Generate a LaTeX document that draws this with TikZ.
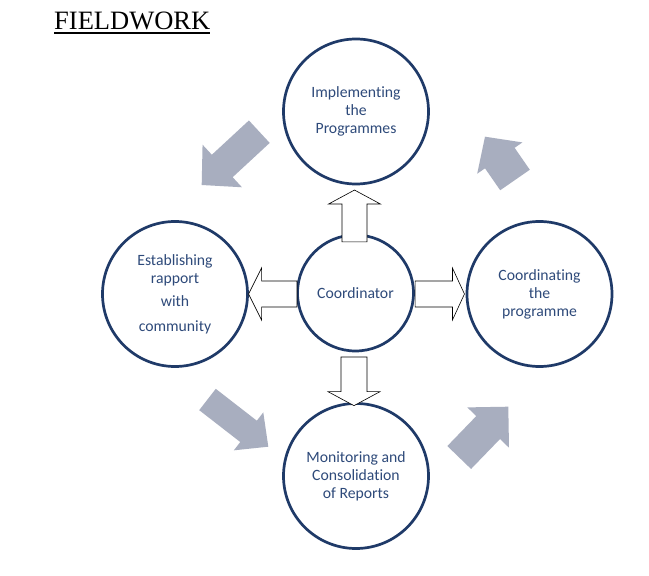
\documentclass[tikz,border=0pt]{standalone}
\usepackage{fontspec}
\setmainfont{Carlito}[Ligatures=NoCommon]
\newfontfamily\titlefont{Liberation Serif}
\usetikzlibrary{calc}

\definecolor{ringblue}{HTML}{1F3A68}
\definecolor{labelblue}{HTML}{2E4A7A}
\definecolor{greyarrow}{HTML}{A8AEBF}

\tikzset{
  ring/.style={circle,draw=ringblue,line width=2.7pt,fill=white,
    minimum size=145pt,inner sep=0pt,align=center,text=labelblue,
    font=\fontsize{15.7}{18}\selectfont},
  hub/.style={ring,minimum size=116pt},
  openarrow/.style={draw=black,fill=white,line width=0.6pt},
  greyblock/.style={fill=greyarrow}
}

% block arrow: style, tail, tip, half shaft, half head, head length
\newcommand\blockarr[6]{%
  \coordinate (hb) at ($(#3)!#6!(#2)$);
  \path[#1] ($(#2)!#4!90:(#3)$) -- ($(hb)!#4!-90:(#2)$)
    -- ($(hb)!#5!-90:(#2)$) -- (#3) -- ($(hb)!#5!90:(#2)$)
    -- ($(hb)!#4!90:(#2)$) -- ($(#2)!#4!-90:(#3)$) -- cycle;}

\begin{document}
\begin{tikzpicture}[x=1pt,y=1pt]
  \useasboundingbox[fill=white] (0,0) rectangle (649,576);

  % title
  \node[anchor=base west,inner sep=0pt,font=\titlefont\fontsize{26.5}{30}\selectfont]
    (title) at (54,546.5) {FIELDWORK};
  \draw[line width=1.3pt] ($(title.base west)+(0,-3.5)$) -- ($(title.base east)+(0,-3.5)$);

  % grey arrows round the ring
  \coordinate (tlTail) at (259.3,444.3); \coordinate (tlTip) at (201.7,391);
  \coordinate (trTail) at (515,396);     \coordinate (trTip) at (485,439.3);
  \coordinate (blTail) at (207.5,176.5); \coordinate (blTip) at (268.3,129.3);
  \coordinate (brTail) at (459.2,118.5); \coordinate (brTip) at (508.3,169.3);
  \blockarr{greyblock}{tlTail}{tlTip}{15.3pt}{29pt}{28pt}
  \blockarr{greyblock}{trTail}{trTip}{18pt}{27.5pt}{26pt}
  \blockarr{greyblock}{blTail}{blTip}{13.5pt}{24pt}{25pt}
  \blockarr{greyblock}{brTail}{brTip}{16.5pt}{29pt}{29pt}

  % circles
  \node[ring] (impl) at (356,464.5) {Implementing\\the\\Programmes};
  \node[ring] (estab) at (175,282) {Establishing\\rapport\\[5pt]with\\[7pt]community};
  \node[hub] (coord) at (355.5,283) {Coordinator};
  \node[ring] (coordprog) at (539.5,282) {Coordinating\\the\\programme};
  \node[ring] (monit) at (356,100) {Monitoring and\\Consolidation\\of Reports};

  % open arrows out of the coordinator
  \coordinate (upTail) at ($(coord.north)+(-1,-8.3)$);
  \coordinate (upTip) at ($(impl.south)+(-1.5,-4.7)$);
  \coordinate (dnTail) at ($(coord.south)+(-1.5,-4.7)$);
  \coordinate (dnTip) at ($(monit.north)+(-2,-3.5)$);
  \coordinate (lfTail) at ($(coord.west)+(0.8,-1)$);
  \coordinate (lfTip) at ($(estab.east)+(-0.3,0)$);
  \coordinate (rtTail) at ($(coord.east)+(0.2,-1)$);
  \coordinate (rtTip) at ($(coordprog.west)+(-1.2,0)$);
  \blockarr{openarrow}{upTail}{upTip}{12.5pt}{26pt}{14pt}
  \blockarr{openarrow}{dnTail}{dnTip}{13pt}{26pt}{14pt}
  \blockarr{openarrow}{lfTail}{lfTip}{13pt}{26pt}{13pt}
  \blockarr{openarrow}{rtTail}{rtTip}{13pt}{26pt}{12pt}
\end{tikzpicture}
\end{document}
